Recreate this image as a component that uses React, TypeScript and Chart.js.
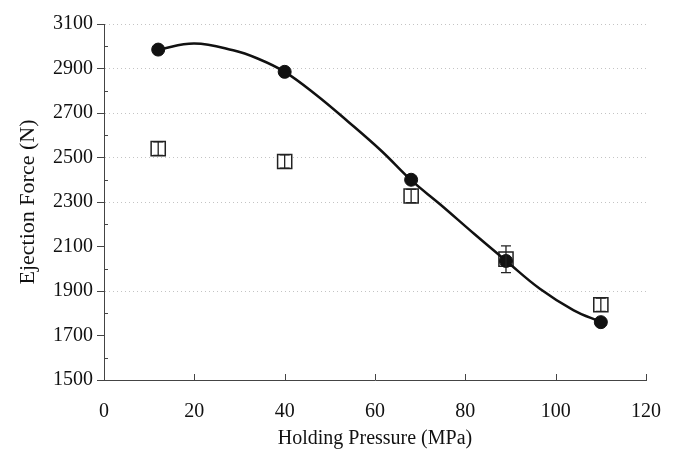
import React, { useEffect, useRef } from "react";
import { Chart, registerables } from "chart.js";

Chart.register(...registerables);

const pressureX = [12, 40, 68, 89, 110];
const forceCircle = [2985, 2885, 2400, 2035, 1760];
const forceSquare = [2540, 2482, 2327, 2043, 1838];
const squareErr = [30, 30, 30, 60, 30];

const curveX = [12, 20, 28.6, 34, 40, 47, 54, 61.5, 68, 74.4, 82, 89, 96.5, 104, 110];
const curveY = [2985, 3012, 2982, 2945, 2885, 2781, 2662, 2528, 2398, 2290, 2156, 2036, 1910, 1813, 1761];

const xTicks = [0, 20, 40, 60, 80, 100, 120];
const yTicks = [1500, 1700, 1900, 2100, 2300, 2500, 2700, 2900, 3100];

const FONT = "'Liberation Serif', 'DejaVu Serif', serif";

const decorPlugin = {
  id: "decor",
  afterDatasetsDraw(chart: any) {
    const ctx = chart.ctx;
    const xs = chart.scales.x;
    const ys = chart.scales.y;
    ctx.save();
    ctx.strokeStyle = "#222";
    ctx.lineWidth = 1.3;
    pressureX.forEach((xv, i) => {
      const px = xs.getPixelForValue(xv);
      const top = ys.getPixelForValue(forceSquare[i] + squareErr[i]);
      const bot = ys.getPixelForValue(forceSquare[i] - squareErr[i]);
      ctx.beginPath();
      ctx.moveTo(px, top);
      ctx.lineTo(px, bot);
      ctx.moveTo(px - 5, top);
      ctx.lineTo(px + 5, top);
      ctx.moveTo(px - 5, bot);
      ctx.lineTo(px + 5, bot);
      ctx.stroke();
    });
    ctx.restore();
  },
  afterDraw(chart: any) {
    const ctx = chart.ctx;
    const xs = chart.scales.x;
    const ys = chart.scales.y;
    const area = chart.chartArea;
    ctx.save();
    ctx.strokeStyle = "#444";
    ctx.lineWidth = 1;
    for (let i = 0; i < yTicks.length - 1; i++) {
      const v = (yTicks[i] + yTicks[i + 1]) / 2;
      const py = Math.round(ys.getPixelForValue(v)) + 0.5;
      ctx.beginPath();
      ctx.moveTo(area.left, py);
      ctx.lineTo(area.left + 4, py);
      ctx.stroke();
    }
    xTicks.forEach((v) => {
      const px = Math.round(xs.getPixelForValue(v)) + 0.5;
      ctx.beginPath();
      ctx.moveTo(px, area.bottom);
      ctx.lineTo(px, area.bottom - 6);
      ctx.stroke();
    });
    ctx.restore();
  },
};

export default function App() {
  const ref = useRef<HTMLCanvasElement>(null);
  useEffect(() => {
    if (!ref.current) return;
    const chart = new Chart(ref.current, {
      type: "scatter",
      data: {
        datasets: [
          {
            label: "circle",
            data: pressureX.map((x, i) => ({ x, y: forceCircle[i] })),
            pointStyle: "circle",
            pointRadius: 6.5,
            backgroundColor: "#111",
            borderColor: "#111",
            showLine: false,
            order: 0,
          },
          {
            label: "fit",
            data: curveX.map((x, i) => ({ x, y: curveY[i] })),
            showLine: true,
            pointRadius: 0,
            borderColor: "#111",
            borderWidth: 2.5,
            tension: 0.4,
            order: 1,
          },
          {
            label: "square",
            data: pressureX.map((x, i) => ({ x, y: forceSquare[i] })),
            pointStyle: "rect",
            pointRadius: 10,
            backgroundColor: "#fff",
            borderColor: "#222",
            borderWidth: 1.5,
            showLine: false,
            order: 2,
          },
        ],
      },
      options: {
        animation: false,
        responsive: false,
        maintainAspectRatio: false,
        layout: { padding: { top: 13, right: 25, left: 0, bottom: 0 } },
        plugins: { legend: { display: false }, tooltip: { enabled: false } },
        scales: {
          x: {
            type: "linear",
            min: 0,
            max: 120,
            afterBuildTicks: (s: any) => {
              s.ticks = xTicks.map((v) => ({ value: v }));
            },
            afterFit: (s: any) => {
              s.height = 74;
              s.paddingLeft = 0;
              s.paddingRight = 0;
            },
            grid: { display: false, drawTicks: false },
            border: { display: true, color: "#444", width: 1 },
            ticks: {
              color: "#111",
              font: { family: FONT, size: 20 },
              padding: 20,
              maxRotation: 0,
              callback: (v: any) => String(v),
            },
            title: {
              display: true,
              text: "Holding Pressure (MPa)",
              color: "#111",
              font: { family: FONT, size: 20 },
              padding: { top: 0, bottom: 3 },
            },
          },
          y: {
            type: "linear",
            min: 1500,
            max: 3100,
            afterBuildTicks: (s: any) => {
              s.ticks = yTicks.map((v) => ({ value: v }));
            },
            afterFit: (s: any) => {
              s.width = 96;
            },
            grid: {
              display: true,
              drawOnChartArea: true,
              drawTicks: true,
              tickLength: 7,
              color: (c: any) =>
                c.tick && (c.tick.value === 1500 || c.tick.value === 2100 || c.tick.value === 1700)
                  ? "rgba(0,0,0,0)"
                  : "#c4c4c4",
              tickColor: "#444",
            } as any,
            border: { display: true, color: "#444", width: 1, dash: [1, 3] } as any,
            ticks: {
              color: "#111",
              font: { family: FONT, size: 20 },
              padding: 4,
              callback: (v: any) => String(v),
            },
            title: {
              display: true,
              text: "Ejection Force (N)",
              color: "#111",
              font: { family: FONT, size: 22 },
              padding: { top: 7, bottom: 0 },
            },
          },
        },
      },
      plugins: [decorPlugin],
    });
    return () => chart.destroy();
  }, []);
  return (
    <div style={{ width: 663, height: 446, overflow: "hidden" }}>
      <canvas ref={ref} width={663} height={446} style={{ display: "block" }} />
    </div>
  );
}
